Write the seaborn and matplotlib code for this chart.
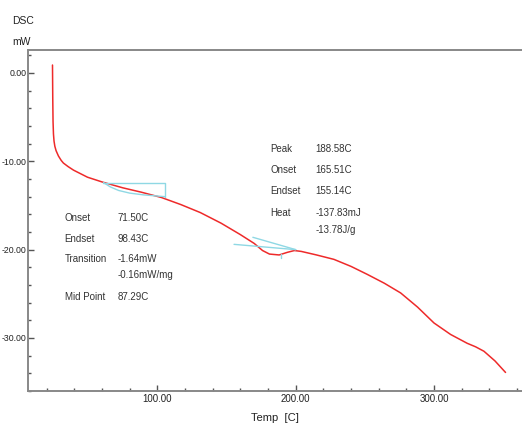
import matplotlib
matplotlib.use("Agg")
import matplotlib.pyplot as plt
from matplotlib.ticker import MultipleLocator, FormatStrFormatter
import seaborn as sns
import pandas as pd

# DSC curve (Temp [C], heat flow [mW])
temp = [24.2, 24.4, 24.6, 24.9, 25.3, 25.9, 26.8, 28.5, 30.5, 32.1, 35.5, 39.4, 49.5,
        60.3, 75, 88.5, 103, 117, 131, 146, 160, 170, 176, 181, 188, 194, 199, 204,
        215, 227.6, 240, 251.7, 264, 275.8, 288, 299.9, 311.9, 323.9, 330, 336, 344,
        351.6]
dsc = [0.9, -3.0, -5.5, -6.9, -7.7, -8.3, -8.8, -9.4, -9.9, -10.2, -10.6, -11.0, -11.8,
       -12.35, -13.0, -13.5, -14.1, -14.9, -15.8, -17.0, -18.3, -19.3, -20.1, -20.5,
       -20.6, -20.3, -20.1, -20.2, -20.6, -21.1, -21.9, -22.8, -23.8, -24.9, -26.5,
       -28.3, -29.6, -30.6, -31.0, -31.5, -32.6, -33.9]

# glass transition construction lines
gt_box_x = [61, 105.4, 105.4]
gt_box_y = [-12.4, -12.4, -14.0]
gt_base_x = [61, 66, 72, 80, 90, 105.4]
gt_base_y = [-12.4, -12.9, -13.3, -13.6, -13.8, -14.0]

# melting peak construction lines
pk_a_x = [155.4, 200]
pk_a_y = [-19.4, -20.0]
pk_b_x = [169, 200]
pk_b_y = [-18.6, -20.0]
pk_tick_x = [189, 189]
pk_tick_y = [-20.5, -21.0]

left_labels = ["Onset", "Endset", "Transition", "", "Mid Point"]
left_values = ["71.50C", "98.43C", "-1.64mW", "-0.16mW/mg", "87.29C"]
right_labels = ["Peak", "Onset", "Endset", "Heat", ""]
right_values = ["188.58C", "165.51C", "155.14C", "-137.83mJ", "-13.78J/g"]

sns.set_style("white")
plt.rcParams['font.family'] = ['Liberation Sans Narrow', 'Liberation Sans', 'DejaVu Sans']

fig = plt.figure(figsize=(5.22, 4.28), dpi=100)
ax = fig.add_axes([28 / 522, 1 - 391 / 428, 1 - 28 / 522, (391 - 50) / 428])

df = pd.DataFrame({"Temp": temp, "DSC": dsc})
cyan = "#8fd8e4"
sns.lineplot(data=df, x="Temp", y="DSC", sort=False, estimator=None, color="#ee2a2a",
             linewidth=1.1, ax=ax)
ax.plot(gt_box_x, gt_box_y, color=cyan, lw=1.0)
ax.plot(gt_base_x, gt_base_y, color=cyan, lw=1.0)
ax.plot(pk_a_x, pk_a_y, color=cyan, lw=1.0)
ax.plot(pk_b_x, pk_b_y, color=cyan, lw=1.0)
ax.plot(pk_tick_x, pk_tick_y, color=cyan, lw=1.0)

ax.set_xlim(6.5, 363.5)
ax.set_ylim(-36.0, 2.6)

ax.xaxis.set_major_locator(MultipleLocator(100))
ax.xaxis.set_minor_locator(MultipleLocator(20))
ax.yaxis.set_major_locator(MultipleLocator(10))
ax.yaxis.set_minor_locator(MultipleLocator(2))
ax.xaxis.set_major_formatter(FormatStrFormatter("%.2f"))
ax.yaxis.set_major_formatter(FormatStrFormatter("%.2f"))
ax.tick_params(which="both", direction="in", color="#555555", labelsize=6.3,
               labelcolor="#222222", bottom=True, left=True, top=False, right=False)
ax.tick_params(which="major", length=4, width=1, pad=1)
ax.tick_params(which="minor", length=2.5, width=1)
ax.tick_params(axis="x", which="major", labelsize=7, pad=2)

for side in ["left", "bottom", "top"]:
    ax.spines[side].set_visible(True)
    ax.spines[side].set_color("#888888")
    ax.spines[side].set_linewidth(1.4)
ax.spines["right"].set_visible(False)

ax.set_xlabel("")
ax.set_ylabel("")

fs = 7
tc = "#333333"
ly = [-16.4, -18.75, -21.1, -22.9, -25.4]
for lab, val, y in zip(left_labels, left_values, ly):
    ax.text(32.9, y, lab, fontsize=fs, color=tc, va="center")
    ax.text(71.1, y, val, fontsize=fs, color=tc, va="center")
ry = [-8.6, -11.0, -13.4, -15.8, -17.8]
for lab, val, y in zip(right_labels, right_values, ry):
    ax.text(181.6, y, lab, fontsize=fs, color=tc, va="center")
    ax.text(214, y, val, fontsize=fs, color=tc, va="center")

fig.text(12 / 522, 1 - 21 / 428, "DSC", fontsize=7.5, color="#222222", va="center")
fig.text(12 / 522, 1 - 42 / 428, "mW", fontsize=7.5, color="#222222", va="center")
fig.text(275 / 522, 1 - 418 / 428, "Temp  [C]", fontsize=8, color="#222222",
         va="center", ha="center")

fig.savefig("out.png", dpi=100)
